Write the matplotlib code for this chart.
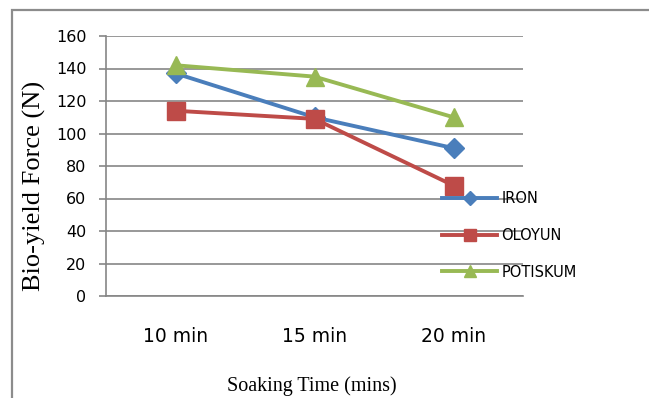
import matplotlib
matplotlib.use('Agg')
import matplotlib.pyplot as plt
from matplotlib.patches import Rectangle

# data
times = ['10 min', '15 min', '20 min']
iron = [137, 110, 91]
oloyun = [114, 109, 68]
potiskum = [142, 135, 110]

W, H = 649, 398
fig = plt.figure(figsize=(W / 100, H / 100), dpi=100)

# outer chart frame (runs off right and bottom edge)
fig.patches.append(Rectangle((11.5 / W, -0.1), 1.2, 1.1 - 10.5 / H,
                             transform=fig.transFigure, fill=False,
                             edgecolor='#8c8c8c', linewidth=1.6))

ax = fig.add_axes([106 / W, 1 - 296 / H, (523 - 106) / W, (296 - 36) / H])

x = range(len(times))
ax.plot(x, iron, color='#4a7ebb', lw=2.8, marker='D', ms=10, label='IRON', zorder=3)
ax.plot(x, oloyun, color='#be4b48', lw=2.8, marker='s', ms=12.5, label='OLOYUN', zorder=3)
ax.plot(x, potiskum, color='#98b954', lw=2.8, marker='^', ms=13, label='POTISKUM', zorder=4)

ax.set_xlim(-0.5, 2.5)
ax.set_ylim(0, 160)
ax.set_yticks(range(0, 161, 20))
ax.set_xticks(list(x))
ax.set_xticklabels(times, fontsize=13.5, fontfamily='DejaVu Sans')
ax.tick_params(axis='x', length=0, pad=22)
ax.tick_params(axis='y', length=5, width=1.2, color='#868686', pad=9, labelsize=11.5)
ax.grid(axis='y', color='#868686', lw=1.2)
ax.set_axisbelow(True)
for s in ['top', 'right']:
    ax.spines[s].set_visible(False)
for s in ['left', 'bottom']:
    ax.spines[s].set_color('#868686')
    ax.spines[s].set_linewidth(1.2)

leg = ax.legend(loc='upper left', bbox_to_anchor=(330 / 417, 111 / 260),
                frameon=False, fontsize=10.5, handlelength=3.8,
                handletextpad=0.3, labelspacing=1.5, borderaxespad=0,
                markerscale=0.7)

fig.text(34 / W, 1 - 186 / H, 'Bio-yield Force (N)', rotation=90,
         ha='center', va='center', fontsize=19, fontfamily='Liberation Serif')
fig.text(312 / W, 1 - 386 / H, 'Soaking Time (mins)', ha='center', va='center',
         fontsize=14.5, fontfamily='Liberation Serif')

fig.savefig('out.png', dpi=100)
